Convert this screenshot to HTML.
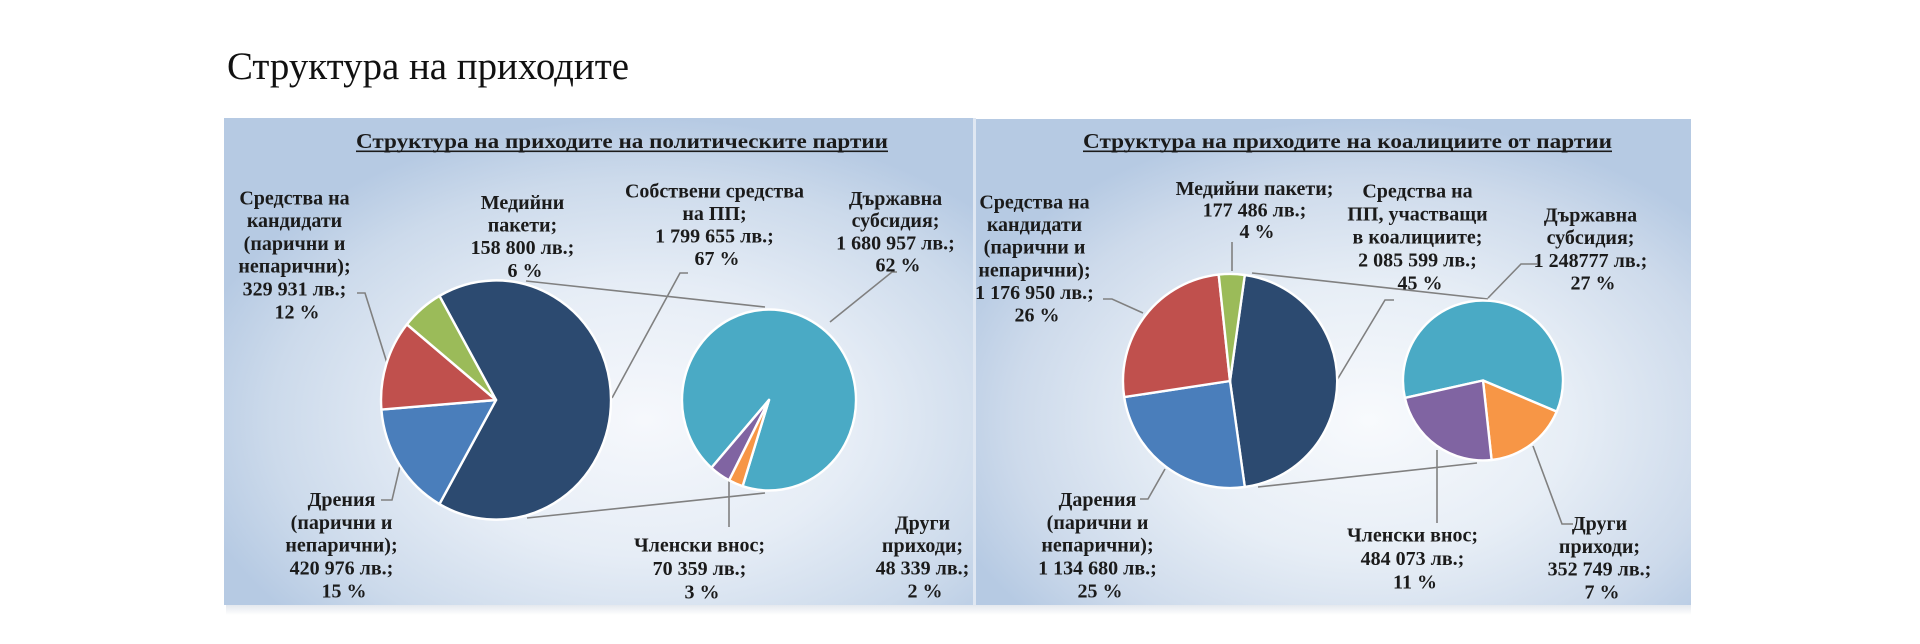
<!DOCTYPE html>
<html>
<head>
<meta charset="utf-8">
<style>
html,body{margin:0;padding:0;background:#ffffff;}
body{width:1920px;height:644px;overflow:hidden;position:relative;}
svg{position:absolute;left:0;top:0;}
text{font-family:"Liberation Serif","DejaVu Serif",serif;fill:#1b1b1b;}
.lb{font-size:20px;font-weight:bold;text-anchor:middle;}
.tt{font-size:21px;font-weight:bold;}
</style>
</head>
<body>
<svg width="1920" height="644" viewBox="0 0 1920 644" xmlns="http://www.w3.org/2000/svg">
  <defs>
    <radialGradient id="bg1" cx="0.56" cy="0.62" r="0.62" gradientUnits="objectBoundingBox">
      <stop offset="0" stop-color="#f6f8fc"/>
      <stop offset="0.45" stop-color="#e6edf6"/>
      <stop offset="0.8" stop-color="#ccdaeb"/>
      <stop offset="1" stop-color="#b6cae3"/>
    </radialGradient>
    <radialGradient id="bg2" cx="0.55" cy="0.62" r="0.62" gradientUnits="objectBoundingBox">
      <stop offset="0" stop-color="#f8fafd"/>
      <stop offset="0.45" stop-color="#e7eef6"/>
      <stop offset="0.8" stop-color="#cddaeb"/>
      <stop offset="1" stop-color="#b6cae3"/>
    </radialGradient>
    <linearGradient id="sh" x1="0" y1="0" x2="0" y2="1">
      <stop offset="0" stop-color="#e4e8ee"/>
      <stop offset="1" stop-color="#ffffff"/>
    </linearGradient>
  </defs>

  <!-- Heading -->
  <text x="227" y="79" font-size="39" textLength="402" lengthAdjust="spacingAndGlyphs" style="fill:#111;">Структура на приходите</text>

  <!-- panel shadows -->
  <rect x="226" y="605" width="1465" height="10" fill="url(#sh)"/>

  <!-- Panels -->
  <rect x="224" y="118" width="751" height="487" fill="url(#bg1)"/>
  <rect x="975" y="119" width="716" height="486" fill="url(#bg2)"/>
  <rect x="973" y="118" width="3" height="487" fill="#dfe7f2"/>

  <!-- Titles -->
  <text class="tt" x="356" y="148" textLength="532" lengthAdjust="spacingAndGlyphs">Структура  на приходите на политическите партии</text>
  <rect x="356" y="150.5" width="532" height="1.6" fill="#1b1b1b"/>
  <text class="tt" x="1083" y="148" textLength="529" lengthAdjust="spacingAndGlyphs">Структура  на приходите на коалициите от партии</text>
  <rect x="1083" y="150.5" width="529" height="1.6" fill="#1b1b1b"/>

  <!-- ===== LEFT CHART ===== -->
  <g stroke="#808080" stroke-width="1.6" fill="none">
    <line x1="526" y1="281" x2="765" y2="307"/>
    <line x1="527" y1="518" x2="765" y2="493"/>
    <polyline points="357,293 365,293 387,363"/>
    <polyline points="688,273 680,273 612,398"/>
    <polyline points="897,272 892,272 830,322"/>
    <polyline points="381,500 392,500 400,466"/>
    <line x1="729" y1="475" x2="729" y2="527"/>
  </g>

  <g transform="translate(496,400) scale(1,1.04)" stroke="#ffffff" stroke-width="2.4" stroke-linejoin="round">
    <path d="M0,0 L-56.6,-100.1 A115,115 0 1 1 -56.6,100.1 Z" fill="#2c4a70"/>
    <path d="M0,0 L-56.6,100.1 A115,115 0 0 1 -114.6,9.2 Z" fill="#4a7ebb"/>
    <path d="M0,0 L-114.6,9.2 A115,115 0 0 1 -89.1,-72.7 Z" fill="#c0504d"/>
    <path d="M0,0 L-89.1,-72.7 A115,115 0 0 1 -56.6,-100.1 Z" fill="#9bbb59"/>
  </g>

  <g transform="translate(769,400) scale(1,1.04)" stroke="#ffffff" stroke-width="2.4" stroke-linejoin="round">
    <path d="M0,0 L-57.6,65.2 A87,87 0 1 1 -26.4,82.9 Z" fill="#4aaac5"/>
    <path d="M0,0 L-26.4,82.9 A87,87 0 0 1 -40.0,77.2 Z" fill="#f79646"/>
    <path d="M0,0 L-40.0,77.2 A87,87 0 0 1 -57.6,65.2 Z" fill="#8064a2"/>
  </g>

  <!-- left labels -->
  <text class="lb">
    <tspan x="297" y="204.3">Средства на</tspan>
    <tspan x="297" y="227.1">кандидати</tspan>
    <tspan x="297" y="249.9">(парични и</tspan>
    <tspan x="297" y="272.7">непарични);</tspan>
    <tspan x="297" y="295.5">329 931 лв.;</tspan>
    <tspan x="297" y="318.3">12 %</tspan>
  </text>
  <text class="lb">
    <tspan x="525" y="209">Медийни</tspan>
    <tspan x="525" y="231.6">пакети;</tspan>
    <tspan x="525" y="254.2">158 800 лв.;</tspan>
    <tspan x="525" y="276.8">6 %</tspan>
  </text>
  <text class="lb">
    <tspan x="717" y="197.3">Собствени средства</tspan>
    <tspan x="717" y="219.9">на ПП;</tspan>
    <tspan x="717" y="242.5">1 799 655 лв.;</tspan>
    <tspan x="717" y="265">67 %</tspan>
  </text>
  <text class="lb">
    <tspan x="898" y="205">Държавна</tspan>
    <tspan x="898" y="227.2">субсидия;</tspan>
    <tspan x="898" y="249.4">1 680 957 лв.;</tspan>
    <tspan x="898" y="271.7">62 %</tspan>
  </text>
  <text class="lb">
    <tspan x="344" y="506">Дрения</tspan>
    <tspan x="344" y="528.8">(парични и</tspan>
    <tspan x="344" y="551.7">непарични);</tspan>
    <tspan x="344" y="574.5">420 976 лв.;</tspan>
    <tspan x="344" y="597.3">15 %</tspan>
  </text>
  <text class="lb">
    <tspan x="702" y="551.7">Членски внос;</tspan>
    <tspan x="702" y="575">70 359 лв.;</tspan>
    <tspan x="702" y="598.3">3 %</tspan>
  </text>
  <text class="lb">
    <tspan x="925" y="529.3">Други</tspan>
    <tspan x="925" y="552">приходи;</tspan>
    <tspan x="925" y="574.7">48 339 лв.;</tspan>
    <tspan x="925" y="597.3">2 %</tspan>
  </text>

  <!-- ===== RIGHT CHART ===== -->
  <g stroke="#808080" stroke-width="1.6" fill="none">
    <line x1="1252" y1="273" x2="1488" y2="299"/>
    <line x1="1258" y1="487" x2="1477" y2="463"/>
    <polyline points="1103,299 1112,299 1143,313"/>
    <line x1="1232" y1="242" x2="1232" y2="271"/>
    <polyline points="1394,300 1385,300 1337,380"/>
    <polyline points="1537,264 1521,264 1488,298"/>
    <polyline points="1140,499 1148,499 1165,469"/>
    <line x1="1437" y1="450" x2="1437" y2="523"/>
    <polyline points="1573,524 1562,524 1533,446"/>
  </g>

  <g transform="translate(1230,381)" stroke="#ffffff" stroke-width="2.4" stroke-linejoin="round">
    <path d="M0,0 L14.8,-106 A107,107 0 0 1 14.8,106 Z" fill="#2c4a70"/>
    <path d="M0,0 L14.8,106 A107,107 0 0 1 -105.8,16.1 Z" fill="#4a7ebb"/>
    <path d="M0,0 L-105.8,16.1 A107,107 0 0 1 -11.3,-106.4 Z" fill="#c0504d"/>
    <path d="M0,0 L-11.3,-106.4 A107,107 0 0 1 14.8,-106 Z" fill="#9bbb59"/>
  </g>

  <g transform="translate(1483,380.5)" stroke="#ffffff" stroke-width="2.4" stroke-linejoin="round">
    <path d="M0,0 L-78.1,17.4 A80,80 0 1 1 73.7,31.1 Z" fill="#4aaac5"/>
    <path d="M0,0 L73.7,31.1 A80,80 0 0 1 8.6,79.5 Z" fill="#f79646"/>
    <path d="M0,0 L8.6,79.5 A80,80 0 0 1 -78.1,17.4 Z" fill="#8064a2"/>
  </g>

  <!-- right labels -->
  <text class="lb">
    <tspan x="1037" y="208.3">Средства на</tspan>
    <tspan x="1037" y="231">кандидати</tspan>
    <tspan x="1037" y="253.7">(парични и</tspan>
    <tspan x="1037" y="276.4">непарични);</tspan>
    <tspan x="1037" y="299">1 176 950 лв.;</tspan>
    <tspan x="1037" y="321.7">26 %</tspan>
  </text>
  <text class="lb">
    <tspan x="1257" y="195">Медийни пакети;</tspan>
    <tspan x="1257" y="216.5">177 486 лв.;</tspan>
    <tspan x="1257" y="238">4 %</tspan>
  </text>
  <text class="lb">
    <tspan x="1420" y="197.3">Средства на</tspan>
    <tspan x="1420" y="220.3">ПП, участващи</tspan>
    <tspan x="1420" y="243.3">в коалициите;</tspan>
    <tspan x="1420" y="266.3">2 085 599 лв.;</tspan>
    <tspan x="1420" y="289.3">45 %</tspan>
  </text>
  <text class="lb">
    <tspan x="1593" y="221.7">Държавна</tspan>
    <tspan x="1593" y="244.2">субсидия;</tspan>
    <tspan x="1593" y="266.8">1 248777 лв.;</tspan>
    <tspan x="1593" y="289.3">27 %</tspan>
  </text>
  <text class="lb">
    <tspan x="1100" y="506">Дарения</tspan>
    <tspan x="1100" y="528.8">(парични и</tspan>
    <tspan x="1100" y="551.7">непарични);</tspan>
    <tspan x="1100" y="574.5">1 134 680 лв.;</tspan>
    <tspan x="1100" y="597.3">25 %</tspan>
  </text>
  <text class="lb">
    <tspan x="1415" y="541.7">Членски внос;</tspan>
    <tspan x="1415" y="565">484 073 лв.;</tspan>
    <tspan x="1415" y="588.3">11 %</tspan>
  </text>
  <text class="lb">
    <tspan x="1602" y="530">Други</tspan>
    <tspan x="1602" y="552.8">приходи;</tspan>
    <tspan x="1602" y="575.5">352 749 лв.;</tspan>
    <tspan x="1602" y="598.3">7 %</tspan>
  </text>
</svg>
</body>
</html>
